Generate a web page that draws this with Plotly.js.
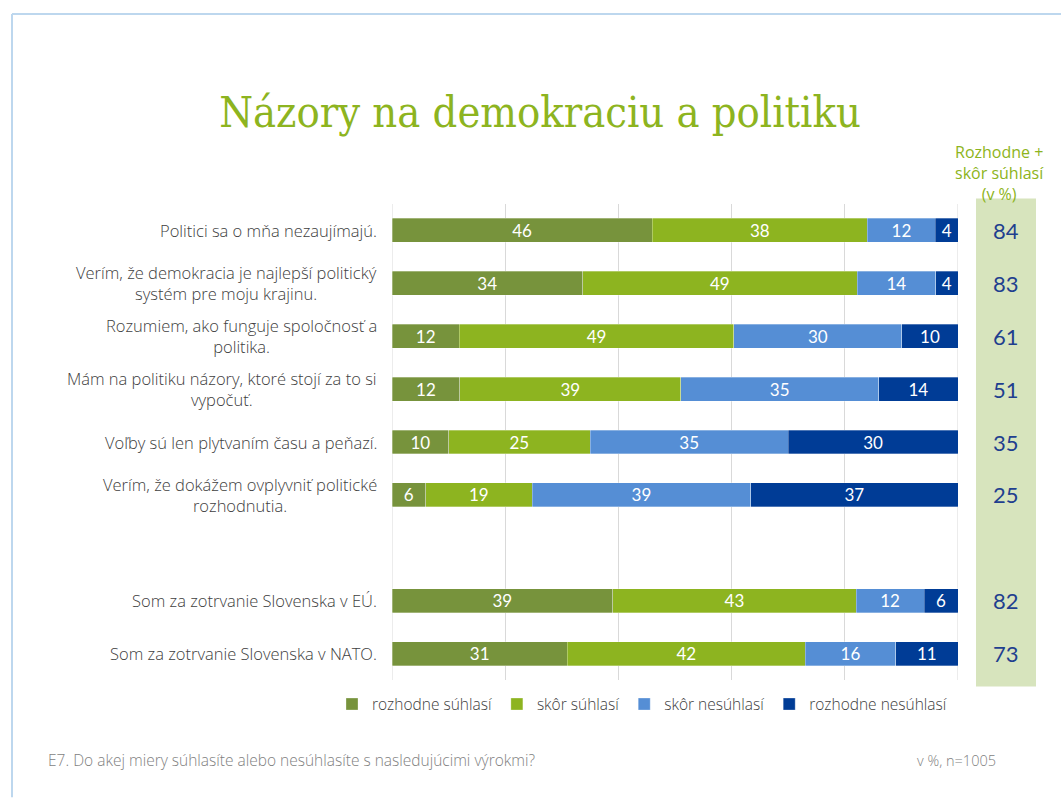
<!DOCTYPE html>
<html>
<head>
<meta charset="utf-8">
<script src="https://cdn.plot.ly/plotly-3.0.1.min.js"></script>
<style>html,body{margin:0;padding:0;background:#fff;}#chart{width:1061px;height:798px;}</style>
</head>
<body>
<div id="chart"></div>
<script>
// ---- data ----
const categories = [
  "Politici sa o mňa nezaujímajú.",
  "Verím, že demokracia je najlepší politický<br>systém pre moju krajinu.",
  "Rozumiem, ako funguje spoločnosť a<br>politika.",
  "Mám na politiku názory, ktoré stojí za to si<br>vypočuť.",
  "Voľby sú len plytvaním času a peňazí.",
  "Verím, že dokážem ovplyvniť politické<br>rozhodnutia.",
  " ",
  "Som za zotrvanie Slovenska v EÚ.",
  "Som za zotrvanie Slovenska v NATO."
];
const seriesNames = ["rozhodne súhlasí", "skôr súhlasí", "skôr nesúhlasí", "rozhodne nesúhlasí"];
const rozhodneSuhlasi   = [46, 34, 12, 12, 10, 6, null, 39, 31];
const skorSuhlasi       = [38, 49, 49, 39, 25, 19, null, 43, 42];
const skorNesuhlasi     = [12, 14, 30, 35, 35, 39, null, 12, 16];
const rozhodneNesuhlasi = [4, 4, 10, 14, 30, 37, null, 6, 11];
const totalSuhlasi      = [84, 83, 61, 51, 35, 25, null, 82, 73];
const colors = ["#77933C", "#8DB420", "#558ED5", "#003C96"];

const seriesValues = [rozhodneSuhlasi, skorSuhlasi, skorNesuhlasi, rozhodneNesuhlasi];
const catIds = categories.map((c, i) => "c" + i);
const SANS = "'Open Sans', Lato, sans-serif";

const traces = seriesValues.map((vals, k) => ({
  type: "bar",
  orientation: "h",
  name: seriesNames[k],
  y: catIds,
  x: vals,
  text: vals.map(v => v == null ? "" : String(v)),
  textposition: "inside",
  insidetextanchor: "middle",
  textangle: 0,
  constraintext: "none",
  textfont: {color: "#ffffff", size: 17, family: "Lato, sans-serif"},
  marker: {color: colors[k], line: {color: "rgba(255,255,255,0.5)", width: 0.6}},
  hoverinfo: "none"
}));

const L = 392, R = 958, T = 203.5, B = 680.5, W = 1061, H = 798;
const px2x = p => (p - L) / (R - L);
const px2y = p => (B - p) / (B - T);

const annotations = [];
// category labels
categories.forEach((c, i) => {
  if (c.trim() === "") return;
  annotations.push({
    xref: "paper", yref: "y", x: px2x(379), y: catIds[i],
    xanchor: "right", yanchor: "middle", align: "center",
    text: c, showarrow: false,
    font: {family: SANS, size: 16.5, color: "#404040", weight: 300}
  });
});
// totals
totalSuhlasi.forEach((v, i) => {
  if (v == null) return;
  annotations.push({
    xref: "paper", yref: "y", x: px2x(1006), y: catIds[i],
    xanchor: "center", yanchor: "middle",
    text: String(v), showarrow: false,
    font: {family: "Lato, sans-serif", size: 22, color: "#1F3F8F"}
  });
});
// header of totals column
annotations.push({
  xref: "paper", yref: "paper", x: px2x(999), y: px2y(138),
  xanchor: "center", yanchor: "top", align: "center",
  text: "Rozhodne +<br>skôr súhlasí<br>(v %)", showarrow: false,
  font: {family: SANS, size: 16, color: "#8DB420"}
});
// footnotes
annotations.push({
  xref: "paper", yref: "paper", x: px2x(46), y: px2y(761),
  xanchor: "left", yanchor: "middle",
  text: "E7. Do akej miery súhlasíte alebo nesúhlasíte s nasledujúcimi výrokmi?", showarrow: false,
  font: {family: SANS, size: 15.5, color: "#7F7F7F", weight: 300}
});
annotations.push({
  xref: "paper", yref: "paper", x: px2x(998), y: px2y(761),
  xanchor: "right", yanchor: "middle",
  text: "v %, n=1005", showarrow: false,
  font: {family: SANS, size: 14.5, color: "#7F7F7F", weight: 300}
});

const shapes = [
  // totals panel
  {type: "rect", xref: "paper", yref: "paper", x0: px2x(976), x1: px2x(1036), y0: px2y(687), y1: px2y(198),
   fillcolor: "#D7E4BD", line: {width: 0}, layer: "below"},
  // axis edge lines
  {type: "line", xref: "x", yref: "paper", x0: 0, x1: 0, y0: 0, y1: 1, line: {color: "#D9D9D9", width: 1}, layer: "below"},
  {type: "line", xref: "x", yref: "paper", x0: 100, x1: 100, y0: 0, y1: 1, line: {color: "#D9D9D9", width: 1}, layer: "below"},
  // frame lines
  {type: "line", xref: "paper", yref: "paper", x0: px2x(12), x1: px2x(1061), y0: px2y(13), y1: px2y(13),
   line: {color: "#BDD7EE", width: 2}},
  {type: "line", xref: "paper", yref: "paper", x0: px2x(12), x1: px2x(12), y0: px2y(13), y1: px2y(798),
   line: {color: "#BDD7EE", width: 2}}
];

const layout = {
  width: W, height: H,
  paper_bgcolor: "#ffffff", plot_bgcolor: "#ffffff",
  margin: {l: L, r: W - R, t: T, b: H - B, pad: 0},
  barmode: "stack",
  barnorm: "percent",
  bargap: 0.547,
  title: {
    text: "Názory na demokraciu a politiku",
    x: 540 / W, xanchor: "center", y: 1 - 112 / H, yanchor: "middle", yref: "container",
    font: {family: "'DejaVu Serif Condensed', 'DejaVu Serif', serif", size: 43, color: "#8DB420"}
  },
  xaxis: {
    range: [0, 100], dtick: 20, tick0: 0, showticklabels: false, ticks: "",
    showgrid: true, gridcolor: "#D9D9D9", gridwidth: 1, zeroline: false, showline: false, fixedrange: true
  },
  yaxis: {
    type: "category", categoryorder: "array", categoryarray: catIds,
    autorange: "reversed", showticklabels: false, ticks: "", showgrid: false, zeroline: false, showline: false
  },
  showlegend: true,
  legend: {
    orientation: "h", x: px2x(332), xanchor: "left", y: px2y(705), yanchor: "middle",
    font: {family: SANS, size: 15.5, color: "#404040", weight: 300},
    traceorder: "normal", itemwidth: 30, tracegroupgap: 0
  },
  annotations: annotations,
  shapes: shapes
};

Plotly.newPlot("chart", traces, layout, {displayModeBar: false, staticPlot: true});
</script>
</body>
</html>
